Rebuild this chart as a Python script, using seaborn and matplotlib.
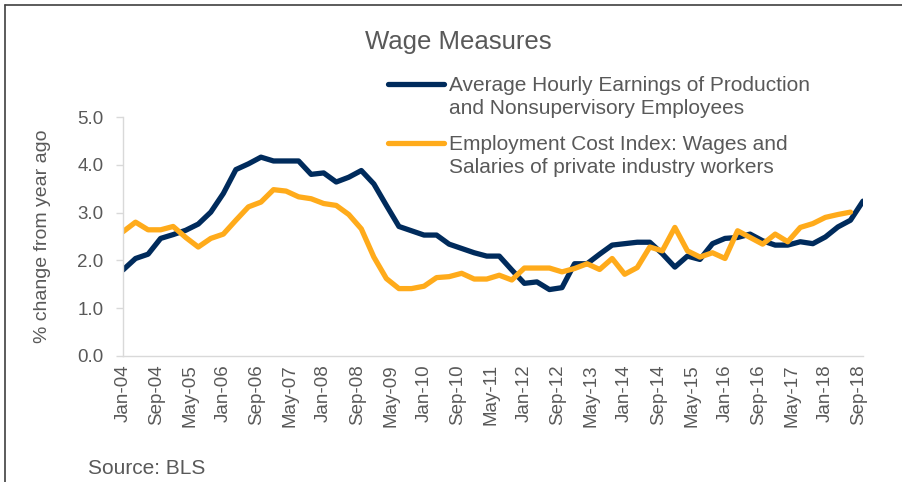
import numpy as np
import pandas as pd
import matplotlib
matplotlib.use('Agg')
import matplotlib.pyplot as plt
from matplotlib.lines import Line2D
from matplotlib.legend_handler import HandlerLine2D
import seaborn as sns

# Datos (variacion % anual, trimestral desde ene-2004)
ahe = [1.80, 2.04, 2.13, 2.46, 2.54, 2.63, 2.76, 3.01, 3.40, 3.90,
       4.02, 4.16, 4.08, 4.08, 4.08, 3.80, 3.83, 3.64, 3.74, 3.88,
       3.60, 3.15, 2.71, 2.62, 2.53, 2.53, 2.34, 2.25, 2.16, 2.09,
       2.09, 1.80, 1.52, 1.55, 1.39, 1.43, 1.93, 1.93, 2.13, 2.32,
       2.35, 2.38, 2.38, 2.14, 1.86, 2.09, 2.02, 2.35, 2.46, 2.48,
       2.55, 2.41, 2.32, 2.32, 2.39, 2.35, 2.49, 2.70, 2.84, 3.24]
eci = [2.60, 2.80, 2.64, 2.64, 2.71, 2.48, 2.28, 2.46, 2.55, 2.84,
       3.12, 3.22, 3.48, 3.45, 3.33, 3.29, 3.19, 3.15, 2.96, 2.66,
       2.07, 1.62, 1.41, 1.41, 1.46, 1.64, 1.66, 1.73, 1.61, 1.61,
       1.69, 1.59, 1.84, 1.84, 1.84, 1.76, 1.83, 1.93, 1.81, 2.04,
       1.71, 1.85, 2.28, 2.20, 2.69, 2.20, 2.07, 2.16, 2.04, 2.62,
       2.48, 2.34, 2.55, 2.39, 2.69, 2.77, 2.90, 2.96, 3.01]
quarters = pd.date_range('2004-01-01', periods=len(ahe), freq='QS')

tick_labels = ['Jan-04', 'Sep-04', 'May-05', 'Jan-06', 'Sep-06', 'May-07',
               'Jan-08', 'Sep-08', 'May-09', 'Jan-10', 'Sep-10', 'May-11',
               'Jan-12', 'Sep-12', 'May-13', 'Jan-14', 'Sep-14', 'May-15',
               'Jan-16', 'Sep-16', 'May-17', 'Jan-18', 'Sep-18']
y_ticks = [0.0, 1.0, 2.0, 3.0, 4.0, 5.0]

label_ahe = 'Average Hourly Earnings of Production\nand Nonsupervisory Employees'
label_eci = 'Employment Cost Index: Wages and\nSalaries of private industry workers'


class FirstLineHandler(HandlerLine2D):
    # Sube la linea de la leyenda hasta la primera fila del texto
    def __init__(self, shift, **kw):
        super().__init__(**kw)
        self.shift = shift

    def create_artists(self, legend, orig_handle, xdescent, ydescent,
                       width, height, fontsize, trans):
        artists = super().create_artists(legend, orig_handle, xdescent, ydescent,
                                         width, height, fontsize, trans)
        for a in artists:
            a.set_ydata(np.asarray(a.get_ydata()) + self.shift)
        return artists


def months_since_start(dates):
    return (dates.year - 2004) * 12 + (dates.month - 1)


def build_frame():
    m = months_since_start(quarters)
    df1 = pd.DataFrame({'mes': m, 'valor': ahe, 'serie': label_ahe})
    df2 = pd.DataFrame({'mes': m[:len(eci)], 'valor': eci, 'serie': label_eci})
    return pd.concat([df1, df2], ignore_index=True)


def main():
    sns.set_theme(style='white')
    plt.rcParams['font.family'] = ['Liberation Sans', 'DejaVu Sans']
    gray = '#595959'

    df = build_frame()
    fig = plt.figure(figsize=(9.03, 4.82), dpi=100)
    ax = fig.add_axes([123 / 903, 1 - 356 / 482, 740 / 903, 239 / 482])

    sns.lineplot(data=df, x='mes', y='valor', hue='serie',
                 palette=['#002B5C', '#FFAB1B'], linewidth=3.8,
                 ax=ax, legend=True)

    ax.set_xlim(0, 177)
    ax.set_ylim(0, 5)
    ax.set_xticks([8 * k for k in range(len(tick_labels))])
    ax.set_xticklabels(tick_labels, rotation=90, fontsize=13.5, color=gray)
    ax.set_yticks(y_ticks)
    ax.set_yticklabels([f'{v:.1f}' for v in y_ticks], fontsize=13.5, color=gray)
    ax.tick_params(axis='y', length=5, width=1, color='#d9d9d9', pad=9, left=True)
    ax.tick_params(axis='x', length=0, pad=6)
    ax.set_xlabel('')
    ax.set_ylabel('% change from year ago', fontsize=14, color=gray, labelpad=19)

    for s in ['top', 'right']:
        ax.spines[s].set_visible(False)
    for s in ['left', 'bottom']:
        ax.spines[s].set_color('#d9d9d9')
        ax.spines[s].set_linewidth(1)

    handles, labels = ax.get_legend_handles_labels()
    leg = ax.legend(handles, labels, loc='upper left',
                    bbox_to_anchor=(388 / 903, 1 - 76 / 482),
                    bbox_transform=fig.transFigure, frameon=False,
                    fontsize=15, handlelength=2.7, handletextpad=0.25,
                    borderpad=0, borderaxespad=0, labelspacing=0.8,
                    handler_map={Line2D: FirstLineHandler(shift=9.3)})
    for t in leg.get_texts():
        t.set_color(gray)
        t.set_linespacing(1.28)

    fig.text(458 / 903, 1 - 42 / 482, 'Wage Measures', ha='center', va='center',
             fontsize=18.5, color=gray)
    fig.text(88 / 903, 1 - 469 / 482, 'Source: BLS', ha='left', va='center',
             fontsize=15, color=gray)

    # Borde del grafico (arriba e izquierda)
    fig.add_artist(plt.Line2D([5 / 903, 5 / 903], [0, 1 - 5 / 482],
                              transform=fig.transFigure, color='#404040', lw=1.2))
    fig.add_artist(plt.Line2D([5 / 903, 1], [1 - 5 / 482, 1 - 5 / 482],
                              transform=fig.transFigure, color='#404040', lw=1.2))

    fig.savefig('out.png', dpi=100)


if __name__ == "__main__":
    main()
